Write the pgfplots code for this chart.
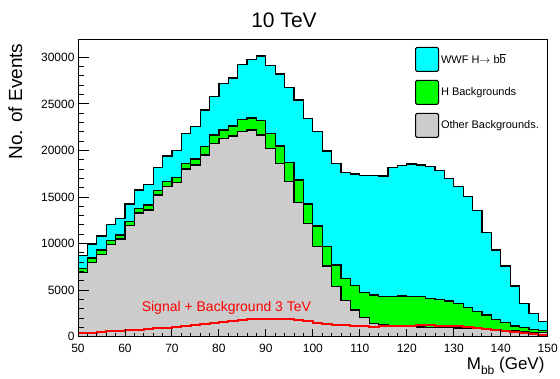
\documentclass[border=0pt]{standalone}
\usepackage{fontspec}
\setmainfont{Liberation Sans}
\usepackage{pgfplots}
\usepackage{pgfplotstable}
\pgfplotsset{compat=1.18}
\definecolor{wwfcol}{RGB}{0,255,255}
\definecolor{hcol}{RGB}{0,255,0}
\definecolor{ocol}{RGB}{204,204,204}
\definecolor{sigcol}{RGB}{255,0,0}
\pgfplotstableread{
x other hbkg wwf sig
50 6900 450 1350 380
52 7950 500 1510 440
54 8810 500 1500 510
56 9900 450 1720 570
58 10490 430 1790 630
60 11920 430 1900 690
62 13290 500 1970 750
64 13610 530 2230 820
66 15220 460 2470 900
68 16110 540 2760 980
70 16580 500 2940 1060
72 18010 610 3220 1150
74 18440 640 3510 1250
76 19510 900 3940 1360
78 20770 890 4120 1470
80 21300 900 5010 1580
82 21560 1070 5150 1690
84 22020 1330 5860 1780
86 22200 1290 6300 1850
88 21660 1540 6950 1900
90 20230 1610 7310 1920
92 18620 1860 7730 1910
94 16650 2040 8090 1860
96 14390 2440 8590 1760
98 12180 2070 9200 1640
100 9670 2220 10130 1520
102 7590 2080 10270 1410
104 5370 2330 10920 1300
106 3870 2360 11390 1210
108 2870 2650 11950 1140
110 2080 2650 12600 1100
112 1440 3040 12850 1090
114 1260 3040 12960 1100
116 1150 3150 13890 1130
118 1070 3300 14000 1170
120 1060 3240 14250 1200
122 1050 3250 14140 1220
124 1030 3090 14140 1220
126 1000 2960 13870 1200
128 970 2860 13180 1170
130 940 2610 12560 1120
132 900 2230 11910 1060
134 860 1880 10790 980
136 820 1500 8850 880
138 720 1160 7430 770
140 670 830 6090 650
142 610 540 4290 520
144 550 400 2640 400
146 490 290 1730 290
148 430 220 960 200
150 430 220 960 200
}\histdata
\begin{document}
\begin{tikzpicture}
\useasboundingbox (0,0) rectangle (560pt,378pt);
\begin{axis}[
  at={(78pt,41.3pt)}, anchor=south west,
  scale only axis, width=469.7pt, height=296.7pt,
  xmin=50, xmax=150, ymin=0, ymax=31860,
  axis on top,
  tick pos=left,
  xtick={50,60,...,150},
  ytick={0,5000,...,30000},
  minor x tick num=4, minor y tick num=4,
  major tick length=11pt, minor tick length=5.5pt,
  x tick style={/pgfplots/major tick length=8pt,/pgfplots/minor tick length=4pt},
  scaled y ticks=false,
  /pgf/number format/assume math mode=true,
  /pgf/number format/1000 sep={},
  ticklabel style={font=\fontsize{12pt}{12pt}\selectfont},
  xticklabel style={yshift=-4pt},
  axis line style={line width=1pt},
  every tick/.style={black, line width=0.9pt},
  legend style={at={(0.7175,0.977)}, anchor=north west, draw=none, fill=none,
    inner sep=0pt, outer sep=0pt, row sep=8pt,
    font=\fontsize{11pt}{13pt}\selectfont,
    nodes={inner sep=2pt}},
  legend cell align=left,
  legend image code/.code={\draw[#1, draw=black, line width=1pt, rounded corners=1.5pt] (0pt,-12pt) rectangle (23pt,12pt);},
]
\addplot[const plot mark left, fill=wwfcol, draw=black, line width=1.2pt]
  table[x=x, y expr=\thisrow{other}+\thisrow{hbkg}+\thisrow{wwf}] {\histdata} \closedcycle;
\addlegendentry{WWF H$\rightarrow$ b$\overline{\mbox{b}}$}
\addplot[const plot mark left, fill=hcol, draw=black, line width=1.2pt]
  table[x=x, y expr=\thisrow{other}+\thisrow{hbkg}] {\histdata} \closedcycle;
\addlegendentry{H Backgrounds}
\addplot[const plot mark left, fill=ocol, draw=black, line width=1.2pt]
  table[x=x, y=other] {\histdata} \closedcycle;
\addlegendentry{Other Backgrounds.}
\addplot[const plot mark left, draw=sigcol, line width=2pt, forget plot]
  table[x=x, y=sig] {\histdata};
\node[text=sigcol, font=\fontsize{14pt}{14pt}\selectfont] at (axis cs:81.6,3050) {Signal + Background 3 TeV};
\end{axis}
\node[font=\fontsize{21pt}{21pt}\selectfont] at (284pt,358pt) {10 TeV};
\node[rotate=90, anchor=base east, font=\fontsize{19pt}{19pt}\selectfont] at (22pt,338pt) {No. of Events};
\node[anchor=base east, font=\fontsize{17pt}{17pt}\selectfont] at (548pt,9pt) {M\raisebox{-0.3em}{\fontsize{12pt}{12pt}\selectfont bb} (GeV)};
\end{tikzpicture}
\end{document}
